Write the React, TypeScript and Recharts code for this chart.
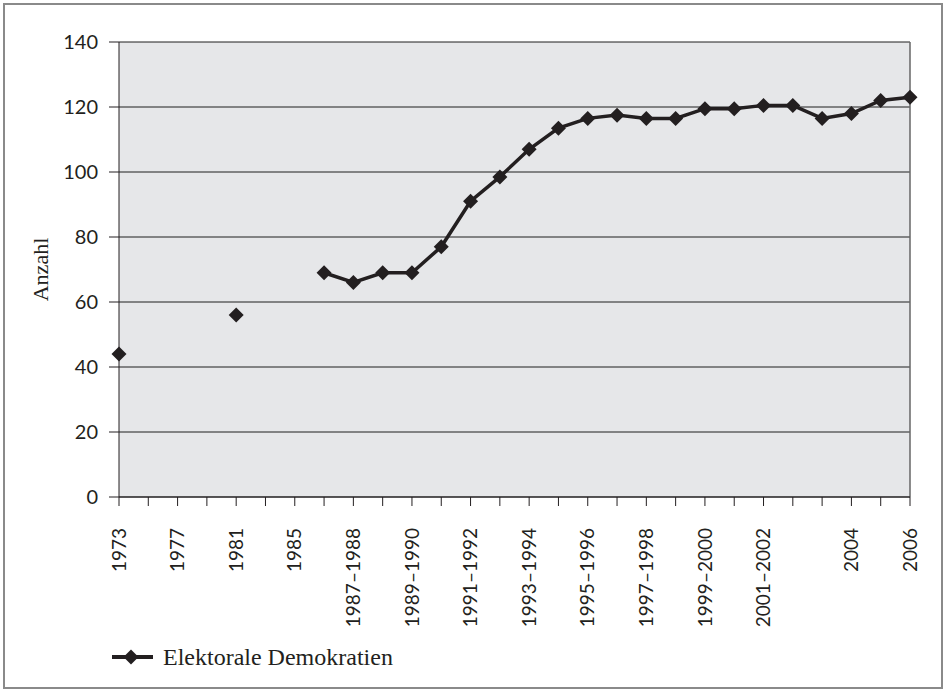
import { CartesianGrid, Legend, Line, LineChart, ReferenceLine, XAxis, YAxis } from 'recharts'

// categories on the x axis (one per survey point)
const periods = [
  '1973', '1975', '1977', '1979', '1981', '1983', '1985',
  '1986–1987', '1987–1988', '1988–1989', '1989–1990', '1990–1991', '1991–1992', '1992–1993',
  '1993–1994', '1994–1995', '1995–1996', '1996–1997', '1997–1998', '1998–1999', '1999–2000',
  '2000–2001', '2001–2002', '2002–2003', '2003', '2004', '2005', '2006',
]

// only these categories carry a visible label
const shownLabels = [
  '1973', '1977', '1981', '1985', '1987–1988', '1989–1990', '1991–1992', '1993–1994',
  '1995–1996', '1997–1998', '1999–2000', '2001–2002', '2004', '2006',
]

const democracies: (number | null)[] = [
  44, null, null, null, 56, null, null,
  69, 66, 69, 69, 77, 91, 98.5,
  107, 113.5, 116.5, 117.5, 116.5, 116.5, 119.5,
  119.5, 120.5, 120.5, 116.5, 118, 122, 123,
]

const yTicks = [0, 20, 40, 60, 80, 100, 120, 140]

const data = periods.map((period, i) => ({ period, value: democracies[i] }))

const INK = '#231f20'
const TICK_FONT = 'Lato, "Open Sans", sans-serif'
const SERIF = '"Liberation Serif", "DejaVu Serif", serif'

const Diamond = (props: any) => {
  const { cx, cy, value } = props
  if (value == null || cx == null || cy == null) return null
  const r = 7.5
  return <path d={`M${cx},${cy - r} L${cx + r},${cy} L${cx},${cy + r} L${cx - r},${cy} Z`} fill={INK} />
}

const XTick = (props: any) => {
  const { x, y, payload } = props
  if (!shownLabels.includes(payload.value)) return null
  return (
    <g transform={`translate(${x},${y + 18})`}>
      <text transform="rotate(-90)" textAnchor="end" dy="0.35em" fontSize={19} fontFamily={TICK_FONT} fill={INK}>
        {payload.value}
      </text>
    </g>
  )
}

const LegendBox = () => (
  <svg width={340} height={30}>
    <line x1={4} y1={15} x2={45} y2={15} stroke={INK} strokeWidth={4} />
    <path d="M23,7.5 L30.5,15 L23,22.5 L15.5,15 Z" fill={INK} />
    <text x={55} y={15} dy="0.35em" fontSize={24} fontFamily={SERIF} fill={INK}>
      Elektorale Demokratien
    </text>
  </svg>
)

export default function App() {
  return (
    <div style={{ position: 'absolute', left: 0, top: 0, width: 946, height: 692 }}>
      <div
        style={{
          position: 'absolute',
          left: 3,
          top: 3,
          width: 936,
          height: 682,
          border: '2px solid #8a8a8a',
          pointerEvents: 'none',
        }}
      />
      <LineChart width={946} height={692} data={data} margin={{ top: 42, right: 36, bottom: 20, left: 0 }}>
        <CartesianGrid vertical={false} stroke="#1e1e1e" strokeWidth={1} fill="#e6e7e9" />
        <XAxis
          dataKey="period"
          interval={0}
          height={145}
          tickSize={9}
          tickMargin={4}
          stroke={INK}
          tickLine={{ stroke: INK }}
          tick={<XTick />}
        />
        <YAxis
          width={119}
          domain={[0, 140]}
          ticks={yTicks}
          tickSize={10}
          tickMargin={11}
          stroke={INK}
          tick={{ fontSize: 20, fontFamily: TICK_FONT, fill: INK }}
          label={({ viewBox }: any) => (
            <text
              transform={`rotate(-90, 40, ${viewBox.y + viewBox.height / 2})`}
              x={40}
              y={viewBox.y + viewBox.height / 2}
              textAnchor="middle"
              dominantBaseline="central"
              fontSize={22}
              fontFamily={SERIF}
              fill={INK}
            >
              Anzahl
            </text>
          )}
        />
        <ReferenceLine x="2006" stroke="#666" strokeWidth={1.5} />
        <Legend
          verticalAlign="bottom"
          align="left"
          content={<LegendBox />}
          wrapperStyle={{ left: 108, bottom: 20, height: 30, width: 340 }}
        />
        <Line
          type="linear"
          dataKey="value"
          stroke={INK}
          strokeWidth={3.5}
          dot={<Diamond />}
          activeDot={false}
          connectNulls={false}
          isAnimationActive={false}
        />
      </LineChart>
    </div>
  )
}
